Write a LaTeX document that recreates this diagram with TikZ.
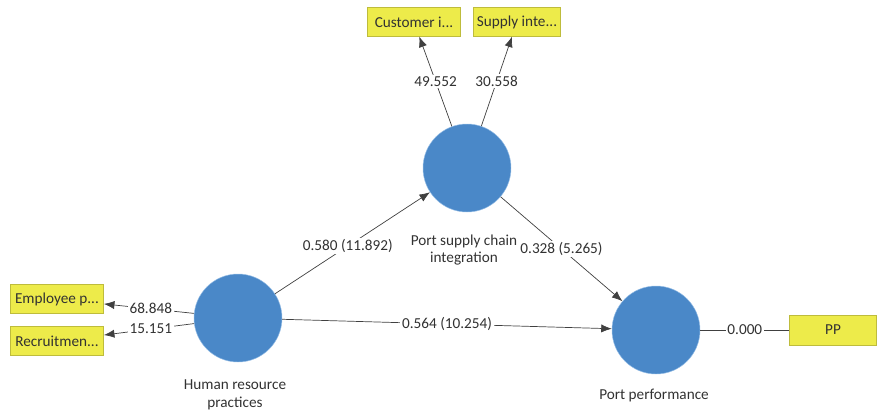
\documentclass[tikz,border=0pt]{standalone}
\usepackage{xcolor}
\usepackage{fontspec}
\setmainfont{Carlito}
\usetikzlibrary{arrows.meta, positioning}

\definecolor{lvblue}{RGB}{74,136,200}
\definecolor{lvedge}{RGB}{150,190,230}
\definecolor{mvyellow}{RGB}{237,235,74}
\definecolor{mvedge}{RGB}{190,188,60}
\definecolor{pathgray}{RGB}{64,64,64}
\definecolor{txtgray}{RGB}{50,50,50}

\begin{document}
\begin{tikzpicture}[x=0.03cm, y=-0.03cm, font=\fontsize{13}{15}\selectfont, text=txtgray]
    \tikzstyle{lv} = [circle, draw=lvedge, fill=lvblue, minimum size=2.64cm, inner sep=0pt]
    \tikzstyle{mv} = [rectangle, draw=mvedge, fill=mvyellow, minimum width=2.8cm, minimum height=0.86cm, inner sep=2pt]
    \tikzstyle{path} = [draw=pathgray, semithick, -{Latex[length=9pt, width=7pt]}]
    \tikzstyle{coef} = [fill=white, inner sep=1.5pt]

    \useasboundingbox (0,0) rectangle (878,414);

    % latent variables
    \node[lv] (psci) at (467,168) {};
    \node[lv] (hrp) at (238,318) {};
    \node[lv] (pp) at (656,330) {};

    \node[align=center] (psci-l) at (464,250) {Port supply chain\\integration};
    \node[align=center] (hrp-l) at (235,395) {Human resource\\practices};
    \node (pp-l) at (654,395) {Port performance};

    % indicators
    \node[mv] (ci) at (414,22) {Customer i...};
    \node[mv, minimum width=2.6cm] (si) at (517,22) {Supply inte...};
    \node[mv] (ep) at (57,299) {Employee p...};
    \node[mv] (rc) at (57,341) {Recruitmen...};
    \node[mv, minimum width=2.6cm, minimum height=0.9cm] (ppm) at (833,330) {PP};

    % outer model
    \draw[path] (psci) -- node[coef, pos=0.5] {49.552} (ci);
    \draw[path] (psci) -- node[coef, pos=0.5] {30.558} (si);
    \draw[path] (hrp) -- node[coef, pos=0.48] {68.848} (ep);
    \draw[path] (hrp) -- node[coef, pos=0.48] {15.151} (rc);
    \draw[draw=pathgray, semithick] (pp) -- node[coef] {0.000} (ppm);

    % inner model
    \draw[path] (hrp) -- node[coef, pos=0.47] {0.580 (11.892)} (psci);
    \draw[path] (psci) -- node[coef, pos=0.5] {0.328 (5.265)} (pp);
    \draw[path] (hrp) -- node[coef, pos=0.5] {0.564 (10.254)} (pp);
\end{tikzpicture}
\end{document}
